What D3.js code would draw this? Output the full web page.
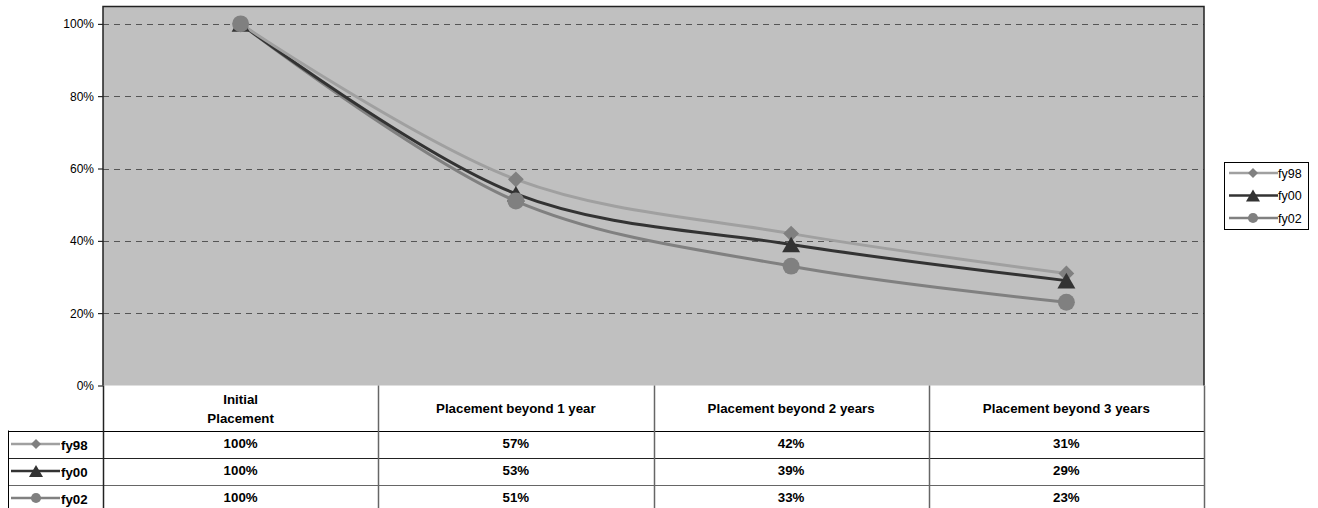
<!DOCTYPE html>
<html lang="en">
<head>
<meta charset="UTF-8">
<title>Placement retention</title>
<script src="https://d3js.org/d3.v7.min.js"></script>
<style>
  body { margin: 0; background: #fff; font-family: "Liberation Sans", Arial, sans-serif; }
  .tick text { font-size: 12px; fill: #000; }
  .cell { font-size: 13.3px; font-weight: bold; fill: #000; }
  .leg { font-size: 12.5px; fill: #000; }
</style>
</head>
<body>
<svg width="1318" height="508"></svg>
<script>
const categories = ["Initial Placement", "Placement beyond 1 year", "Placement beyond 2 years", "Placement beyond 3 years"];
const seriesNames = ["fy98", "fy00", "fy02"];
const fy98 = [1.00, 0.57, 0.42, 0.31];
const fy00 = [1.00, 0.53, 0.39, 0.29];
const fy02 = [1.00, 0.51, 0.33, 0.23];
const yTicks = [0, 0.2, 0.4, 0.6, 0.8, 1.0];

// marker: shape, size in plot, size in keys, rotation, vertical nudge (plot, key)
const series = [
  { name: "fy98", values: fy98, line: "#a0a0a0", fill: "#808080", shape: d3.symbolSquare, size: 125, lsize: 50, rot: 45, dy: 0, ldy: 0 },
  { name: "fy00", values: fy00, line: "#333333", fill: "#333333", shape: d3.symbolTriangle, size: 140, lsize: 85, rot: 0, dy: 2.6, ldy: 2 },
  { name: "fy02", values: fy02, line: "#808080", fill: "#808080", shape: d3.symbolCircle, size: 225, lsize: 80, rot: 0, dy: 0, ldy: 0 }
];

const svg = d3.select("svg");
const pLeft = 103, pRight = 1204, pTop = 6.5, pBottom = 385.5;
const rowH = [45, 27, 27, 27];

const x = d3.scaleBand().domain(categories).range([pLeft, pRight]);
const y = d3.scaleLinear().domain([0, 1.048]).range([pBottom, pTop]);

// plot background
svg.append("rect").attr("x", pLeft).attr("y", pTop)
  .attr("width", pRight - pLeft).attr("height", pBottom - pTop)
  .attr("fill", "#c0c0c0");

// gridlines
svg.append("g").selectAll("line")
  .data(yTicks.filter(d => d > 0))
  .join("line")
  .attr("x1", pLeft).attr("x2", pRight)
  .attr("y1", d => Math.round(y(d)) + 0.5).attr("y2", d => Math.round(y(d)) + 0.5)
  .attr("stroke", "#555").attr("stroke-dasharray", "6,5");

// y axis
const yAxis = svg.append("g").attr("transform", `translate(${pLeft},0)`)
  .call(d3.axisLeft(y).tickValues(yTicks).tickFormat(d3.format(".0%")).tickSize(5).tickPadding(4));
yAxis.select(".domain").remove();
yAxis.selectAll(".tick line").attr("stroke", "#000");

// plot border
svg.append("path")
  .attr("d", `M${pLeft},${pBottom}V${pTop}H${pRight}V${pBottom}`)
  .attr("fill", "none").attr("stroke", "#222").attr("stroke-width", 1.5);

// lines
const line = d3.line()
  .x((d, i) => x(categories[i]) + x.bandwidth() / 2)
  .y(d => y(d))
  .curve(d3.curveCatmullRom.alpha(0.5));

series.slice().reverse().forEach(s => {
  svg.append("path").datum(s.values)
    .attr("d", line)
    .attr("fill", "none").attr("stroke", s.line).attr("stroke-width", 3);
});
series.forEach(s => {
  svg.append("g").selectAll("path")
    .data(s.values)
    .join("path")
    .attr("transform", (d, i) => `translate(${x(categories[i]) + x.bandwidth() / 2},${y(d) + s.dy}) rotate(${s.rot})`)
    .attr("d", d3.symbol().type(s.shape).size(s.size))
    .attr("fill", s.fill);
});

// data table
const tableTop = pBottom;
const rowY = [tableTop];
rowH.forEach(h => rowY.push(rowY[rowY.length - 1] + h));
const tbl = svg.append("g");

// horizontal lines
rowY.slice(1).forEach((yy, i) => {
  tbl.append("line")
    .attr("x1", 8).attr("x2", pRight)
    .attr("y1", Math.round(yy) + 0.5).attr("y2", Math.round(yy) + 0.5)
    .attr("stroke", i === 0 ? "#000" : (i === 1 ? "#222" : "#666")).attr("stroke-width", 1);
});
// vertical lines
const colX = categories.map(c => x(c)).concat([pRight]);
colX.forEach(cx => {
  tbl.append("line")
    .attr("x1", Math.round(cx) + 0.5).attr("x2", Math.round(cx) + 0.5)
    .attr("y1", tableTop).attr("y2", 508)
    .attr("stroke", cx === pLeft ? "#222" : "#666").attr("stroke-width", 1.5);
});
tbl.append("line").attr("x1", 8.5).attr("x2", 8.5).attr("y1", rowY[1]).attr("y2", 508)
  .attr("stroke", "#000");

// header text
categories.forEach(c => {
  const cx = x(c) + x.bandwidth() / 2;
  const words = c === "Initial Placement" ? ["Initial", "Placement"] : [c];
  const t = tbl.append("text").attr("class", "cell").attr("text-anchor", "middle");
  words.forEach((w, i) => {
    t.append("tspan").attr("x", cx)
      .attr("y", words.length === 1 ? rowY[0] + 27 : rowY[0] + 18 + i * 19)
      .text(w);
  });
});

// rows
series.forEach((s, r) => {
  const cy = rowY[r + 1] + rowH[r + 1] / 2;
  tbl.append("line").attr("x1", 11).attr("x2", 60)
    .attr("y1", cy).attr("y2", cy)
    .attr("stroke", s.line).attr("stroke-width", 2.5);
  tbl.append("path").attr("transform", `translate(36,${cy + s.ldy}) rotate(${s.rot})`)
    .attr("d", d3.symbol().type(s.shape).size(s.lsize))
    .attr("fill", s.fill);
  tbl.append("text").attr("class", "cell").attr("x", 61).attr("y", cy + 6).text(s.name);
  s.values.forEach((v, i) => {
    tbl.append("text").attr("class", "cell").attr("text-anchor", "middle")
      .attr("x", x(categories[i]) + x.bandwidth() / 2).attr("y", cy + 4)
      .text(d3.format(".0%")(v));
  });
});

// legend
const lg = svg.append("g");
lg.append("rect").attr("x", 1224.5).attr("y", 162.5).attr("width", 84).attr("height", 67)
  .attr("fill", "#fff").attr("stroke", "#000");
series.forEach((s, i) => {
  const ly = 173 + i * 22.5;
  lg.append("line").attr("x1", 1229).attr("x2", 1278).attr("y1", ly).attr("y2", ly)
    .attr("stroke", s.line).attr("stroke-width", 2.5);
  lg.append("path").attr("transform", `translate(1253,${ly + s.ldy}) rotate(${s.rot})`)
    .attr("d", d3.symbol().type(s.shape).size(s.lsize))
    .attr("fill", s.fill);
  lg.append("text").attr("class", "leg").attr("x", 1278).attr("y", ly + 4.5).text(s.name);
});
</script>
</body>
</html>
